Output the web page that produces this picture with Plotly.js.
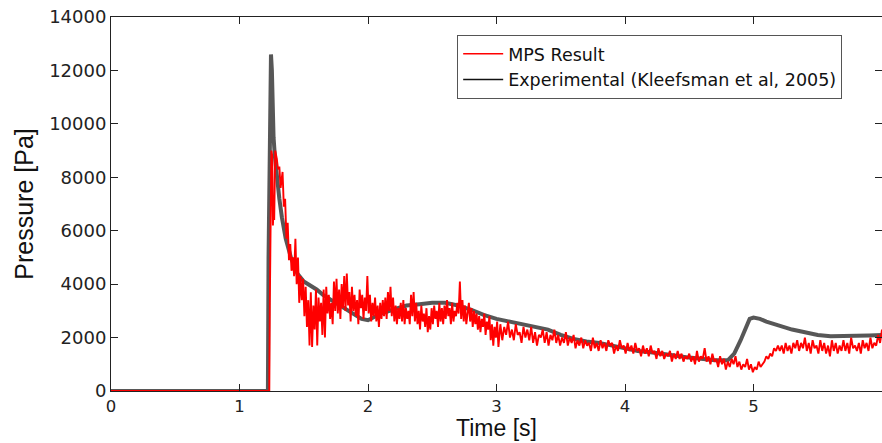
<!DOCTYPE html>
<html>
<head>
<meta charset="utf-8">
<script src="https://cdn.plot.ly/plotly-3.0.1.min.js"></script>
<style>html,body{margin:0;padding:0;background:#fff;}#chart{width:882px;height:443px;}</style>
</head>
<body>
<div id="chart"></div>
<script>
// Experimental (Kleefsman et al, 2005)
const expTime = [0,1.221,1.226,1.235,1.245,1.252,1.258,1.265,1.275,1.29,1.31,1.33,1.36,1.40,1.45,1.5,1.55,1.6,1.65,1.7,1.75,1.8,1.85,1.9,1.95,2.0,2.1,2.2,2.3,2.4,2.5,2.6,2.7,2.8,2.9,3.0,3.1,3.2,3.3,3.4,3.5,3.6,3.7,3.8,3.9,4.0,4.1,4.2,4.3,4.4,4.5,4.6,4.7,4.8,4.85,4.9,4.94,4.97,5.0,5.05,5.1,5.2,5.3,5.4,5.5,5.6,5.7,5.8,5.9,6.0];
const expPressure = [0,0,5000,11000,12600,12000,10500,9500,8800,8000,7200,6500,5700,5000,4400,4100,3950,3800,3600,3450,3300,3150,3000,2850,2700,2650,2900,3050,3200,3250,3300,3300,3200,3050,2850,2700,2600,2500,2400,2300,2100,1950,1850,1800,1700,1600,1500,1450,1400,1320,1250,1200,1150,1150,1400,1900,2400,2700,2750,2700,2600,2450,2300,2200,2100,2050,2050,2050,2080,2100];

// MPS Result
const mpsTime = [0,1.232,1.236,1.242,1.248,1.255,1.26,1.265,1.27,1.278,1.29,1.30,1.31,1.32,1.335,1.345,1.355,1.365,1.375,1.385,1.395,1.405,1.415,1.425,1.435,1.445,1.455,1.465,1.475,1.485,1.495,1.505,1.515,1.525,1.535,1.545,1.555,1.565,1.575,1.585,1.595,1.605,1.615,1.625,1.635,1.645,1.655,1.665,1.675,1.685,1.695,1.705,1.715,1.725,1.735,1.745,1.755,1.765,1.775,1.785,1.795,1.805,1.815,1.825,1.835,1.845,1.855,1.865,1.875,1.885,1.895,1.905,1.915,1.925,1.935,1.945,1.955,1.965,1.975,1.985,1.995,2.005,2.015,2.025,2.035,2.045,2.055,2.065,2.075,2.085,2.095,2.105,2.115,2.125,2.135,2.145,2.155,2.165,2.175,2.185,2.195,2.205,2.215,2.225,2.235,2.245,2.255,2.265,2.275,2.285,2.295,2.305,2.315,2.325,2.335,2.345,2.355,2.365,2.375,2.385,2.395,2.405,2.415,2.425,2.435,2.445,2.455,2.465,2.475,2.485,2.495,2.505,2.515,2.525,2.535,2.545,2.555,2.565,2.575,2.585,2.595,2.605,2.615,2.625,2.635,2.645,2.655,2.665,2.675,2.685,2.695,2.705,2.715,2.725,2.735,2.745,2.755,2.765,2.785,2.795,2.805,2.815,2.825,2.835,2.845,2.855,2.865,2.875,2.885,2.895,2.905,2.915,2.925,2.935,2.945,2.955,2.965,2.975,2.985,2.995,3.005,3.015,3.03,3.045,3.06,3.075,3.09,3.105,3.12,3.135,3.15,3.165,3.18,3.195,3.21,3.225,3.24,3.255,3.27,3.285,3.30,3.315,3.33,3.345,3.36,3.375,3.39,3.405,3.42,3.435,3.45,3.465,3.48,3.495,3.51,3.525,3.54,3.555,3.57,3.585,3.60,3.615,3.63,3.645,3.66,3.675,3.69,3.705,3.72,3.735,3.75,3.765,3.78,3.795,3.81,3.825,3.84,3.855,3.87,3.885,3.90,3.915,3.93,3.945,3.96,3.975,3.99,4.005,4.02,4.035,4.05,4.065,4.08,4.095,4.11,4.125,4.14,4.155,4.17,4.185,4.20,4.215,4.23,4.245,4.26,4.275,4.29,4.305,4.32,4.335,4.35,4.365,4.38,4.395,4.41,4.425,4.44,4.455,4.47,4.485,4.50,4.515,4.53,4.545,4.56,4.575,4.59,4.605,4.62,4.635,4.65,4.665,4.68,4.695,4.71,4.725,4.74,4.755,4.77,4.785,4.80,4.815,4.83,4.845,4.86,4.875,4.89,4.905,4.92,4.935,4.95,4.965,4.98,4.995,5.01,5.025,5.04,5.055,5.07,5.085,5.10,5.115,5.13,5.145,5.16,5.175,5.19,5.205,5.22,5.235,5.25,5.265,5.28,5.295,5.31,5.325,5.34,5.355,5.37,5.385,5.40,5.415,5.43,5.445,5.46,5.475,5.49,5.505,5.52,5.535,5.55,5.565,5.58,5.595,5.61,5.625,5.64,5.655,5.67,5.685,5.70,5.715,5.73,5.745,5.76,5.775,5.79,5.805,5.82,5.835,5.85,5.865,5.88,5.895,5.91,5.925,5.94,5.955,5.97,5.985,6.0];
const mpsPressure = [0,0,3300,7000,9000,8800,6200,6800,6400,9000,8700,8300,8400,7600,8200,6900,7200,5700,6300,4900,5500,4500,5000,4300,5700,4000,5000,3300,4300,3400,4200,2800,3900,2400,3400,1700,3700,1650,3200,2300,3800,1700,3500,2600,3300,2100,3800,2000,3900,2900,3600,2700,3300,2500,4100,3000,4200,2900,3800,2700,4000,3100,4300,3000,4400,3200,3700,2600,3900,3000,3600,2800,3400,2500,3800,3100,3600,2700,3500,3000,4300,2900,3600,2600,3300,2800,3500,2600,3200,2400,3300,2700,3400,2800,3500,2700,3700,3000,3900,2800,3500,2600,3200,2500,3100,2700,3300,2600,3400,2500,3100,2700,3000,2500,3600,2800,3700,2600,3300,2500,3000,2300,3200,2600,2900,2400,3100,2200,2800,2300,3100,2500,3200,2700,3000,2400,3300,2600,3100,2500,3200,2700,3400,2800,3100,2500,3300,2600,3000,2800,3300,2900,4100,2700,3400,2600,3200,2500,3300,2600,3100,2400,3000,2500,2900,2300,2800,2200,2700,2400,2900,2100,2600,2300,2800,1900,2500,1700,2400,2000,2600,1650,2500,1900,2400,2100,2600,2000,2300,1900,2500,2100,2200,1800,2400,2000,2300,1900,2400,1800,2200,1700,2100,2000,2300,1800,2200,1700,2100,1900,2300,1800,2100,1700,2000,1800,2200,1700,2000,1800,2100,1600,1900,1700,2000,1600,1900,1700,1800,1500,2000,1600,1800,1500,1900,1600,1800,1500,1900,1700,1800,1400,1700,1500,1900,1600,1700,1400,1800,1500,1700,1400,1800,1500,1600,1300,1700,1400,1600,1300,1700,1400,1500,1200,1600,1300,1500,1200,1400,1300,1500,1100,1400,1200,1500,1200,1400,1100,1300,1200,1400,1100,1300,1000,1500,1100,1300,1200,1600,1100,1300,1000,1400,1100,1200,900,1300,1000,1200,800,1100,900,1200,1000,1300,900,1100,800,1000,900,1200,800,1000,700,900,800,1100,900,1000,1100,1300,1200,1400,1300,1600,1500,1700,1500,1700,1400,1800,1500,1700,1400,1800,1600,1900,1500,1800,1600,2000,1500,1800,1400,1900,1600,1700,1400,1900,1500,1800,1400,1700,1300,1900,1500,1800,1400,1700,1500,1900,1500,1800,1400,2000,1600,1700,1500,1800,1400,1900,1600,1800,1500,2000,1600,1800,1700,2100,1800,2300];

const xTicks = [0,1,2,3,4,5,6];
const yTicks = [0,2000,4000,6000,8000,10000,12000,14000];
const seriesNames = ['MPS Result', 'Experimental (Kleefsman et al, 2005)'];
const xTitle = 'Time [s]';
const yTitle = 'Pressure [Pa]';

const WIDE = 'DejaVu Sans, Verdana, sans-serif';
const NARROW = 'Liberation Sans, Arial, sans-serif';

const traces = [
  {x: expTime, y: expPressure, type: 'scatter', mode: 'lines', showlegend: false,
   line: {color: 'rgba(45,45,45,0.8)', width: 4}, hoverinfo: 'skip'},
  {x: mpsTime, y: mpsPressure, type: 'scatter', mode: 'lines', showlegend: false,
   line: {color: '#ff0000', width: 1.9, shape: 'linear'}},
  {x: [null], y: [null], type: 'scatter', mode: 'lines', name: seriesNames[0],
   line: {color: '#ff0000', width: 1.5}},
  {x: [null], y: [null], type: 'scatter', mode: 'lines', name: seriesNames[1],
   line: {color: '#111111', width: 1.5}}
];

const layout = {
  width: 882, height: 443,
  margin: {l: 111, r: 0, t: 17, b: 52},
  paper_bgcolor: '#ffffff', plot_bgcolor: '#ffffff',
  font: {family: WIDE, color: '#222', size: 18},
  showlegend: true,
  legend: {
    x: 0.449, y: 0.952, xanchor: 'left', yanchor: 'top',
    bgcolor: '#ffffff', bordercolor: '#555', borderwidth: 1,
    font: {family: WIDE, size: 17.5, color: '#111'},
    tracegroupgap: 0, itemwidth: 40
  },
  xaxis: {
    range: [0, 6], tickvals: xTicks, ticktext: xTicks.map(String),
    ticks: 'inside', ticklen: 7, tickcolor: '#222', tickwidth: 1,
    showline: true, linecolor: '#222', linewidth: 1, mirror: 'ticks',
    showgrid: false, zeroline: false,
    tickfont: {family: WIDE, size: 16.5, color: '#222'}
  },
  yaxis: {
    range: [0, 14000], tickvals: yTicks, ticktext: yTicks.map(String),
    ticks: 'inside', ticklen: 7, tickcolor: '#222', tickwidth: 1,
    showline: true, linecolor: '#222', linewidth: 1, mirror: 'ticks',
    showgrid: false, zeroline: false,
    tickfont: {family: WIDE, size: 18, color: '#222'},
    title: {text: yTitle, font: {family: NARROW, size: 25, color: '#111'}, standoff: 8}
  },
  annotations: [{
    text: xTitle, xref: 'paper', yref: 'paper', x: 0.5, y: -0.1365,
    xanchor: 'center', yanchor: 'bottom', showarrow: false, borderpad: 0,
    font: {family: NARROW, size: 23, color: '#111'}
  }]
};

Plotly.newPlot('chart', traces, layout, {staticPlot: true, displayModeBar: false});
</script>
</body>
</html>
